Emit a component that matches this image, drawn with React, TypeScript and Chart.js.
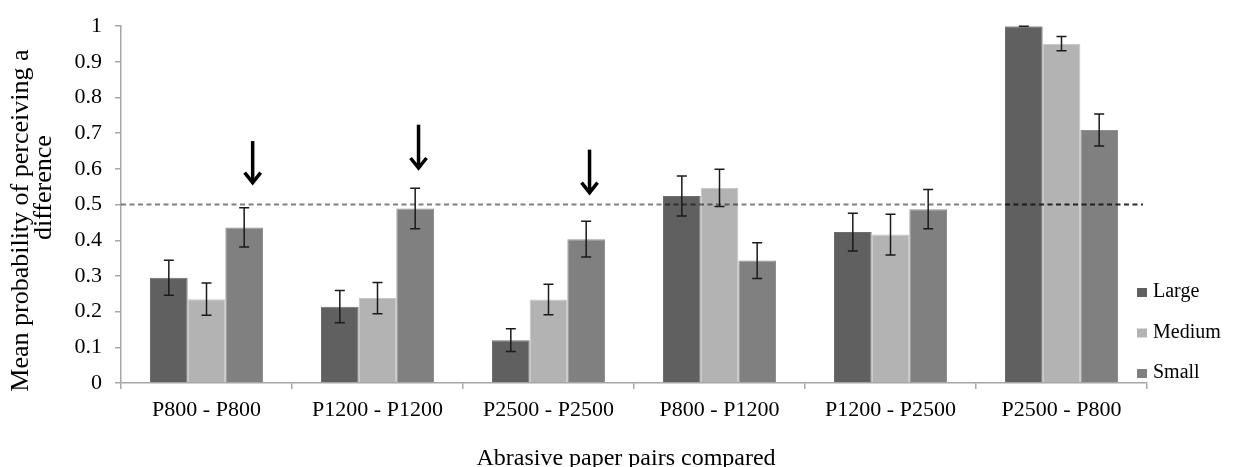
import React, { useEffect, useRef } from "react";
import { Chart, registerables } from "chart.js";

Chart.register(...registerables);

// Paper pairs on the category axis
const categories = [
  "P800 - P800",
  "P1200 - P1200",
  "P2500 - P2500",
  "P800 - P1200",
  "P1200 - P2500",
  "P2500 - P800",
];

// Finger-contact sizes (series)
const seriesNames = ["Large", "Medium", "Small"];
const seriesColors = ["#606060", "#b3b3b3", "#808080"];
const seriesBorders = ["#6e6e6e", "#c4c4c4", "#8f8f8f"];

// Mean probability of perceiving a difference
const largeMeans = [0.295, 0.214, 0.12, 0.524, 0.423, 1.0];
const mediumMeans = [0.235, 0.238, 0.234, 0.547, 0.416, 0.951];
const smallMeans = [0.436, 0.489, 0.403, 0.343, 0.487, 0.709];

// Standard errors (half-length of each error bar)
const largeErrors = [0.049, 0.045, 0.032, 0.056, 0.053, 0.0];
const mediumErrors = [0.045, 0.044, 0.043, 0.052, 0.057, 0.02];
const smallErrors = [0.055, 0.057, 0.05, 0.05, 0.055, 0.045];

// Value axis ticks
const yTicks = [0, 0.1, 0.2, 0.3, 0.4, 0.5, 0.6, 0.7, 0.8, 0.9, 1];

// Chance level reference line
const chanceLevel = 0.5;

// Arrows marking same-paper pairs: category position, tail value, tip value
const arrowCategoryPositions = [0.27, 1.24, 2.24];
const arrowTailValues = [0.678, 0.724, 0.654];
const arrowTipValues = [0.556, 0.597, 0.528];

const xTitle = "Abrasive paper pairs compared";
const yTitleLines = ["Mean probability of perceiving a", "difference"];

const FONT = "'Liberation Serif', 'Times New Roman', serif";

const overlayPlugin = {
  id: "overlay",
  afterDatasetsDraw(chart: any) {
    const { ctx, chartArea } = chart;
    const xs = chart.scales.x;
    const ys = chart.scales.y;
    const errorSets = [largeErrors, mediumErrors, smallErrors];

    // chance-level dashed line (two tones, darker over the last group)
    const lastBar = chart.getDatasetMeta(0).data[categories.length - 1];
    const splitX = lastBar.x - lastBar.width / 2;
    const yLine = ys.getPixelForValue(chanceLevel);
    ctx.save();
    ctx.lineWidth = 2;
    ctx.setLineDash([5, 3.5]);
    ctx.strokeStyle = "rgba(0,0,0,0.5)";
    ctx.beginPath();
    ctx.moveTo(chartArea.left, yLine);
    ctx.lineTo(splitX, yLine);
    ctx.stroke();
    ctx.strokeStyle = "rgba(20,20,20,0.9)";
    ctx.beginPath();
    ctx.moveTo(splitX, yLine);
    ctx.lineTo(chartArea.right - 4, yLine);
    ctx.stroke();
    ctx.restore();

    // error bars
    ctx.save();
    ctx.strokeStyle = "#1a1a1a";
    ctx.lineWidth = 1.5;
    chart.data.datasets.forEach((ds: any, di: number) => {
      const meta = chart.getDatasetMeta(di);
      meta.data.forEach((bar: any, i: number) => {
        const v = ds.data[i];
        const e = errorSets[di][i];
        const top = ys.getPixelForValue(v + e);
        const bot = ys.getPixelForValue(v - e);
        const cap = 5;
        ctx.beginPath();
        ctx.moveTo(bar.x, top);
        ctx.lineTo(bar.x, bot);
        ctx.moveTo(bar.x - cap, top);
        ctx.lineTo(bar.x + cap, top);
        ctx.moveTo(bar.x - cap, bot);
        ctx.lineTo(bar.x + cap, bot);
        ctx.stroke();
      });
    });
    ctx.restore();

    // arrows
    ctx.save();
    ctx.strokeStyle = "#000";
    ctx.fillStyle = "#000";
    ctx.lineWidth = 3.5;
    ctx.lineCap = "butt";
    ctx.lineJoin = "miter";
    arrowCategoryPositions.forEach((pos, i) => {
      const ax = xs.getPixelForValue(pos);
      const tail = ys.getPixelForValue(arrowTailValues[i]);
      const tip = ys.getPixelForValue(arrowTipValues[i]);
      ctx.beginPath();
      ctx.moveTo(ax, tail);
      ctx.lineTo(ax, tip - 4);
      ctx.stroke();
      ctx.beginPath();
      ctx.moveTo(ax - 8, tip - 12);
      ctx.lineTo(ax, tip - 2);
      ctx.lineTo(ax + 8, tip - 12);
      ctx.stroke();
    });
    ctx.restore();
  },
  afterDraw(chart: any) {
    const { ctx, chartArea } = chart;

    // legend, stacked at the lower right
    ctx.save();
    ctx.font = `20px ${FONT}`;
    ctx.textAlign = "left";
    ctx.textBaseline = "alphabetic";
    const baselines = [chartArea.bottom - 86, chartArea.bottom - 45.5, chartArea.bottom - 5];
    chart.data.datasets.forEach((ds: any, i: number) => {
      const by = baselines[i];
      ctx.fillStyle = ds.backgroundColor;
      ctx.fillRect(chartArea.right - 10, by - 9, 10, 9);
      ctx.fillStyle = "#000";
      ctx.fillText(ds.label, chartArea.right + 6, by);
    });
    ctx.restore();

    // value axis title (two lines, rotated)
    ctx.save();
    ctx.fillStyle = "#000";
    ctx.font = `26px ${FONT}`;
    ctx.textAlign = "center";
    ctx.textBaseline = "alphabetic";
    const midY = (chartArea.top + chartArea.bottom) / 2;
    const lineX = [28, 51];
    const lineShift = [16, -17];
    yTitleLines.forEach((txt, i) => {
      ctx.save();
      ctx.translate(lineX[i], midY + lineShift[i]);
      ctx.rotate(-Math.PI / 2);
      ctx.fillText(txt, 0, 0);
      ctx.restore();
    });
    ctx.restore();

    // category axis title
    ctx.save();
    ctx.fillStyle = "#000";
    ctx.font = `24px ${FONT}`;
    ctx.textAlign = "center";
    ctx.textBaseline = "alphabetic";
    ctx.fillText(xTitle, (chartArea.left + chartArea.right) / 2 - 8, 465);
    ctx.restore();
  },
};

export default function App() {
  const canvasRef = useRef<HTMLCanvasElement | null>(null);

  useEffect(() => {
    if (!canvasRef.current) return;
    const chart = new Chart(canvasRef.current, {
      type: "bar",
      data: {
        labels: categories,
        datasets: [largeMeans, mediumMeans, smallMeans].map((values, i) => ({
          label: seriesNames[i],
          data: values,
          backgroundColor: seriesColors[i],
          borderColor: seriesBorders[i],
          borderWidth: 1,
          categoryPercentage: 0.661,
          barPercentage: 1,
        })),
      },
      options: {
        animation: false,
        responsive: true,
        maintainAspectRatio: false,
        layout: { padding: { left: 0, top: 14, right: 86, bottom: 0 } },
        plugins: {
          legend: { display: false },
          tooltip: { enabled: false },
        },
        scales: {
          x: {
            grid: {
              offset: true,
              drawOnChartArea: false,
              drawTicks: true,
              tickLength: 6,
              color: "#a6a6a6",
              lineWidth: 1.5,
            },
            border: { color: "#a6a6a6", width: 1.5 },
            ticks: {
              color: "#000",
              font: { family: FONT, size: 22 },
              padding: 8,
              maxRotation: 0,
              autoSkip: false,
            },
            afterFit: (scale: any) => {
              scale.height = 84;
            },
          },
          y: {
            min: 0,
            max: 1,
            grid: {
              drawOnChartArea: false,
              drawTicks: true,
              tickLength: 6,
              color: "#a6a6a6",
              lineWidth: 1.5,
            },
            border: { color: "#a6a6a6", width: 1.5 },
            afterBuildTicks: (scale: any) => {
              scale.ticks = yTicks.map((v) => ({ value: v }));
            },
            ticks: {
              color: "#000",
              font: { family: FONT, size: 22 },
              padding: 13,
              callback: (v: any) => String(Number(Number(v).toFixed(1))),
            },
            afterFit: (scale: any) => {
              scale.width = 121;
            },
          },
        },
      },
      plugins: [overlayPlugin],
    });
    return () => chart.destroy();
  }, []);

  return (
    <div
      style={{
        position: "fixed",
        left: 0,
        top: 0,
        width: 1233,
        height: 467,
        background: "#fff",
      }}
    >
      <canvas ref={canvasRef} />
    </div>
  );
}
